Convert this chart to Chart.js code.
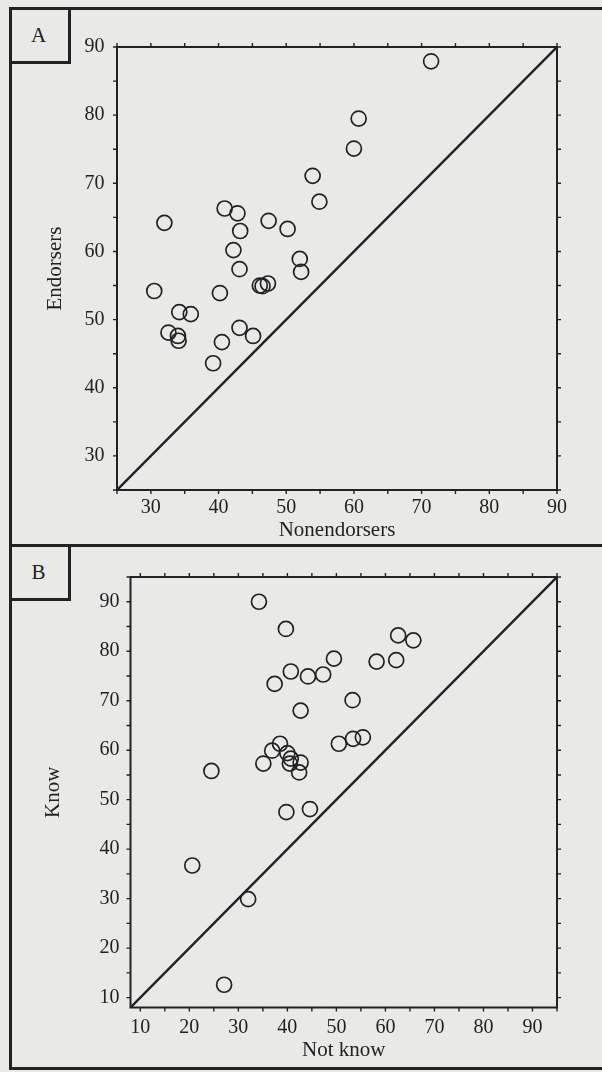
<!DOCTYPE html>
<html>
<head>
<meta charset="utf-8">
<script src="https://cdn.jsdelivr.net/npm/chart.js@4.4.1/dist/chart.umd.min.js"></script>
<style>
  body { margin: 0; background: #e9e9e7; }
  #page { position: relative; width: 602px; height: 1072px; overflow: hidden; background: #e9e9e7; }
  .rule { position: absolute; background: #222; }
  .tag { position: absolute; border-right: 3px solid #222; border-bottom: 3px solid #222;
         font: 21px "Liberation Serif", serif; color: #222; text-align: center; box-sizing: border-box; }
  .panel { position: absolute; left: 0; }
</style>
</head>
<body>
<div id="page">
  <div class="rule" style="left:9px; top:7px; width:593px; height:3px;"></div>
  <div class="rule" style="left:9px; top:7px; width:3px; height:1063px;"></div>
  <div class="rule" style="left:9px; top:544px; width:593px; height:3px;"></div>
  <div class="rule" style="left:9px; top:1067px; width:593px; height:3px;"></div>
  <div class="tag" style="left:9px; top:7px; width:62px; height:57px; line-height:57px;">A</div>
  <div class="tag" style="left:9px; top:544px; width:62px; height:57px; line-height:57px;">B</div>
  <div class="panel" style="top:0;"><canvas id="chartA" width="602" height="545"></canvas></div>
  <div class="panel" style="top:545px;"><canvas id="chartB" width="602" height="527"></canvas></div>
</div>
<script>
// panel A: endorsers vs nonendorsers
const nonendorsers = [71.4, 60.7, 60.0, 53.9, 54.9, 40.9, 42.8, 43.2, 32.0, 47.4, 50.2, 42.2,
  52.0, 52.2, 43.1, 30.5, 40.2, 46.1, 46.5, 47.3, 34.2, 35.9, 32.6, 34.0, 34.1, 43.1, 45.1, 40.5, 39.2];
const endorsers = [87.9, 79.5, 75.1, 71.1, 67.3, 66.3, 65.6, 63.0, 64.2, 64.5, 63.3, 60.2,
  58.9, 57.0, 57.4, 54.2, 53.9, 55.0, 54.9, 55.3, 51.1, 50.8, 48.1, 47.6, 46.9, 48.8, 47.6, 46.7, 43.6];
const rangeA = [25, 90];
const ticksA = [30, 40, 50, 60, 70, 80, 90];
const marksA = [25, 30, 35, 40, 45, 50, 55, 60, 65, 70, 75, 80, 85, 90];

// panel B: know vs not know
const notKnow = [34.2, 39.7, 62.6, 65.7, 49.5, 58.2, 62.2, 40.7, 44.2, 47.3, 37.4, 53.3, 42.7,
  38.5, 36.9, 35.1, 40.0, 40.7, 40.5, 42.7, 42.4, 50.5, 53.4, 55.4, 24.5, 39.8, 44.6, 20.6, 32.0, 27.1];
const know = [90.0, 84.5, 83.2, 82.2, 78.5, 77.9, 78.2, 75.9, 74.9, 75.3, 73.4, 70.1, 68.0,
  61.3, 59.9, 57.3, 59.4, 58.3, 57.3, 57.5, 55.5, 61.3, 62.3, 62.6, 55.8, 47.5, 48.1, 36.7, 29.9, 12.6];
const rangeB = [8, 95];
const ticksB = [10, 20, 30, 40, 50, 60, 70, 80, 90];
const marksB = [10, 15, 20, 25, 30, 35, 40, 45, 50, 55, 60, 65, 70, 75, 80, 85, 90, 95];

const ink = '#222';
const serif = '"Liberation Serif", "Times New Roman", serif';

// box round the plot plus outward tick marks on all four sides
const frameTicks = {
  id: 'frameTicks',
  afterDraw(chart, args, opts) {
    const { ctx, chartArea: a, scales: { x, y } } = chart;
    const len = 4;
    ctx.save();
    ctx.strokeStyle = ink;
    ctx.lineWidth = 2;
    ctx.strokeRect(a.left, a.top, a.right - a.left, a.bottom - a.top);
    ctx.lineWidth = 1.4;
    ctx.beginPath();
    opts.marks.forEach(v => {
      const px = x.getPixelForValue(v);
      ctx.moveTo(px, a.bottom); ctx.lineTo(px, a.bottom + len);
      ctx.moveTo(px, a.top); ctx.lineTo(px, a.top - len);
      const py = y.getPixelForValue(v);
      ctx.moveTo(a.left, py); ctx.lineTo(a.left - len, py);
      ctx.moveTo(a.right, py); ctx.lineTo(a.right + len, py);
    });
    ctx.stroke();
    ctx.restore();
  }
};

function makeChart(id, xs, ys, range, tickVals, marks, xTitle, yTitle, lay) {
  const pts = xs.map((v, i) => ({ x: v, y: ys[i] }));
  const diag = range.map(v => ({ x: v, y: v }));
  const axis = (title, fit, tickPad, titlePad) => ({
    type: 'linear',
    min: range[0],
    max: range[1],
    afterBuildTicks: s => { s.ticks = tickVals.map(v => ({ value: v })); },
    afterFit: fit,
    grid: { display: false, drawTicks: false },
    border: { display: false },
    ticks: { padding: tickPad, color: ink, font: { family: serif, size: 20 } },
    title: { display: true, text: title, color: ink, padding: titlePad, font: { family: serif, size: 21 } }
  });
  return new Chart(document.getElementById(id), {
    type: 'scatter',
    data: {
      datasets: [
        {
          data: pts,
          pointStyle: 'circle',
          pointRadius: 7.5,
          pointBorderWidth: 1.7,
          pointBorderColor: ink,
          pointBackgroundColor: 'rgba(0,0,0,0)'
        },
        {
          data: diag,
          showLine: true,
          borderColor: ink,
          borderWidth: 2.4,
          pointRadius: 0
        }
      ]
    },
    options: {
      responsive: false,
      animation: false,
      layout: { padding: { left: 0, top: lay.top, right: lay.right, bottom: 0 } },
      plugins: {
        legend: { display: false },
        tooltip: { enabled: false },
        frameTicks: { marks: marks }
      },
      scales: {
        x: axis(xTitle, s => { s.height = lay.xh; }, lay.xpad, { top: 0, bottom: lay.xtitle }),
        y: axis(yTitle, s => { s.width = lay.yw; }, lay.ypad, { top: lay.ytitle, bottom: 0 })
      }
    },
    plugins: [frameTicks]
  });
}

makeChart('chartA', nonendorsers, endorsers, rangeA, ticksA, marksA, 'Nonendorsers', 'Endorsers',
  { top: 47, right: 45, xh: 55, yw: 117, xpad: 5.5, ypad: 12.5, xtitle: 2, ytitle: 43 });
makeChart('chartB', notKnow, know, rangeB, ticksB, marksB, 'Not know', 'Know',
  { top: 32, right: 45, xh: 64.5, yw: 130.5, xpad: 8, ypad: 11, xtitle: 9, ytitle: 41 });
</script>
</body>
</html>
